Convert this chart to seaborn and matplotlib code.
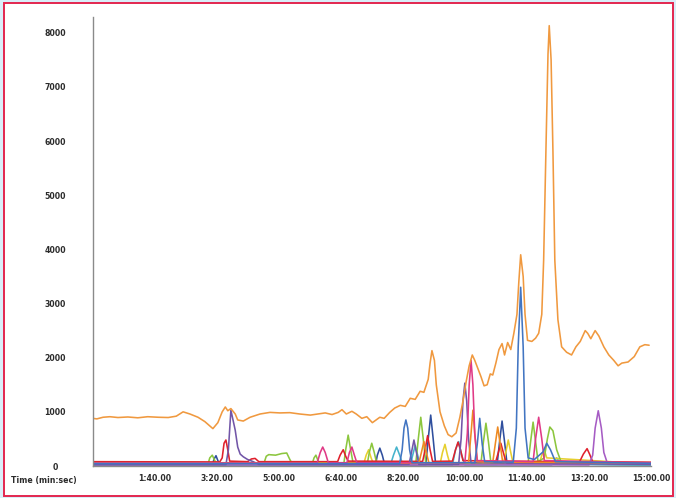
import matplotlib
matplotlib.use("Agg")
import matplotlib.pyplot as plt
from matplotlib.patches import Rectangle
import pandas as pd
import seaborn as sns

# Retention time (s) and intensity for each traced ion channel
tic_t = [0, 7, 17, 28, 41, 57, 73, 89, 106, 122, 135, 146, 157, 170, 181, 194, 202, 209,
         214, 218, 223, 230, 234, 243, 254, 270, 286, 302, 318, 334, 351, 363, 375, 386,
         396, 402, 409, 418, 425, 434, 442, 451, 457, 463, 470, 479, 487, 496, 504, 512,
         520, 528, 534, 541, 544, 547, 551, 554, 560, 567, 573, 579, 586, 592, 597, 602,
         607, 612, 616, 621, 626, 631, 636, 641, 645, 650, 655, 660, 664, 669, 674, 679,
         684, 687, 690, 694, 697, 701, 708, 714, 719, 724, 727, 731, 734, 736, 739, 742,
         745, 750, 756, 764, 772, 779, 786, 794, 798, 803, 810, 816, 824, 832, 840, 847,
         853, 863, 873, 882, 890, 897]
tic_v = [880, 870, 900, 910, 895, 905, 890, 910, 900, 895, 920, 1000, 960, 900, 820, 690,
         800, 1000, 1090, 1020, 1060, 960, 850, 830, 900, 960, 990, 980, 985, 960, 940,
         960, 980, 950, 990, 1040, 960, 1010, 960, 880, 910, 800, 850, 900, 880, 990, 1070,
         1120, 1100, 1250, 1230, 1380, 1360, 1600, 1900, 2130, 1950, 1500, 1000, 740, 580,
         540, 610, 900, 1200, 1550, 1850, 2050, 1950, 1800, 1650, 1480, 1500, 1700, 1680,
         1900, 2150, 2260, 2050, 2280, 2150, 2450, 2800, 3400, 3900, 3500, 2800, 2320,
         2300, 2360, 2450, 2800, 3800, 6000, 7600, 8130, 7500, 5800, 3800, 2700, 2200,
         2100, 2050, 2200, 2300, 2500, 2450, 2350, 2500, 2400, 2200, 2050, 1950, 1850,
         1900, 1920, 2020, 2200, 2240, 2230]

blue_t = [0, 495, 499, 502, 505, 508, 511, 515, 616, 620, 624, 628, 632, 678, 683, 686,
          690, 694, 697, 702, 712, 726, 732, 738, 746, 900]
blue_v = [45, 45, 300, 700, 850, 700, 300, 60, 60, 400, 880, 400, 80, 70, 700, 2200,
          3300, 2200, 700, 150, 120, 260, 420, 300, 80, 50]

purple_t = [0, 215, 219, 223, 227, 230, 234, 238, 243, 250, 259, 268, 510, 514, 518, 522,
            526, 590, 594, 597, 600, 603, 606, 610, 900]
purple_v = [25, 25, 300, 1030, 820, 660, 350, 220, 170, 120, 80, 30, 30, 250, 480, 250,
            30, 30, 500, 1200, 1530, 1200, 500, 60, 30]

violet_t = [0, 800, 806, 810, 815, 820, 824, 830, 900]
violet_v = [20, 20, 200, 700, 1020, 700, 250, 40, 30]

red_t = [0, 205, 209, 212, 215, 218, 221, 250, 256, 262, 268, 395, 399, 404, 408, 412,
         532, 536, 540, 544, 548, 580, 585, 589, 593, 597, 650, 654, 658, 662, 666, 785,
         791, 797, 801, 806, 900]
red_v = [80, 75, 150, 420, 480, 300, 90, 80, 130, 140, 80, 80, 200, 300, 180, 90, 85,
         300, 560, 300, 85, 90, 300, 440, 300, 100, 90, 250, 420, 250, 90, 80, 220, 320,
         220, 80, 70]

pink_t = [0, 362, 367, 371, 375, 380, 410, 414, 418, 422, 426, 600, 604, 607, 610, 613,
          616, 620, 710, 714, 719, 724, 728, 900]
pink_v = [55, 55, 250, 350, 250, 60, 60, 250, 350, 200, 60, 60, 600, 1500, 1950, 1500,
          600, 100, 80, 500, 900, 500, 100, 60]

green_t = [0, 186, 189, 193, 197, 201, 276, 280, 284, 295, 305, 313, 318, 322, 354, 357,
           360, 364, 405, 408, 412, 416, 420, 443, 446, 450, 454, 458, 521, 525, 529, 533,
           537, 626, 630, 634, 638, 642, 702, 706, 710, 714, 718, 728, 733, 737, 742, 748,
           755, 900]
green_v = [30, 30, 150, 200, 100, 30, 40, 180, 210, 200, 230, 240, 120, 40, 40, 150, 200,
           80, 40, 300, 570, 300, 50, 50, 250, 420, 250, 50, 50, 500, 900, 500, 60, 60,
           450, 790, 450, 60, 60, 450, 810, 450, 80, 150, 500, 720, 650, 300, 80, 50]

navy_t = [0, 193, 196, 199, 202, 206, 456, 459, 463, 467, 471, 537, 541, 545, 549, 553,
          652, 656, 660, 664, 668, 900]
navy_v = [20, 20, 130, 190, 100, 20, 20, 200, 330, 200, 20, 20, 500, 940, 500, 30, 30,
          450, 830, 450, 40, 20]

amber_t = [0, 526, 530, 534, 538, 542, 606, 610, 613, 616, 620, 645, 649, 653, 657, 661,
           900]
amber_v = [60, 60, 250, 450, 250, 60, 60, 600, 1030, 600, 80, 70, 400, 720, 400, 70, 60]

yellow_t = [0, 437, 441, 445, 449, 453, 560, 564, 568, 572, 576, 662, 666, 670, 674, 678,
            720, 724, 728, 732, 900]
yellow_v = [35, 35, 200, 300, 150, 35, 35, 250, 400, 200, 40, 40, 250, 480, 250, 40, 40,
            200, 300, 150, 35]

cyan_t = [0, 480, 485, 490, 495, 500, 512, 516, 520, 524, 528, 580, 585, 590, 595, 600,
          740, 748, 755, 900]
cyan_v = [15, 15, 200, 350, 200, 20, 20, 200, 380, 200, 20, 20, 300, 450, 200, 20, 20,
          150, 40, 15]

x_ticks = [100, 200, 300, 400, 500, 600, 700, 800, 900]
x_labels = ["1:40.00", "3:20.00", "5:00.00", "6:40.00", "8:20.00", "10:00.00",
            "11:40.00", "13:20.00", "15:00.00"]
y_ticks = [0, 1000, 2000, 3000, 4000, 5000, 6000, 7000, 8000]

traces = {
    "navy": (navy_t, navy_v, "#2f4f9e"),
    "cyan": (cyan_t, cyan_v, "#45b3cc"),
    "yellow": (yellow_t, yellow_v, "#e6cf2e"),
    "green": (green_t, green_v, "#8cc63e"),
    "red": (red_t, red_v, "#e0202c"),
    "violet": (violet_t, violet_v, "#a65cc4"),
    "purple": (purple_t, purple_v, "#7256a8"),
    "amber": (amber_t, amber_v, "#ee8a22"),
    "pink": (pink_t, pink_v, "#e03a86"),
    "blue": (blue_t, blue_v, "#4275c2"),
    "tic": (tic_t, tic_v, "#f0993f"),
}

frames = []
for name, (t, v, _) in traces.items():
    frames.append(pd.DataFrame({"time": t, "intensity": v, "trace": name}))
df = pd.concat(frames, ignore_index=True)
palette = {name: c for name, (_, _, c) in traces.items()}

sns.set_style("white")
fig = plt.figure(figsize=(6.76, 4.98), dpi=100, facecolor="#d9eef9")
W, H = 676, 498
frame = Rectangle((4 / W, 2 / H), 669 / W, 493 / H, transform=fig.transFigure,
                  facecolor="white", edgecolor="#e3264f", linewidth=1.4)
frame.set_zorder(-10)
fig.patches.append(frame)

ax = fig.add_axes([92.5 / W, 1 - 466 / H, (651 - 92.5) / W, (466 - 17) / H])
ax.patch.set_alpha(0)
ax.set_zorder(5)

sns.lineplot(data=df, x="time", y="intensity", hue="trace", hue_order=list(traces),
             palette=palette, estimator=None, sort=False, legend=False,
             linewidth=1.15, ax=ax)

ax.set_xlim(0, 900)
ax.set_ylim(0, 8290)
ax.set_xlabel("")
ax.set_ylabel("")

for side in ("top", "right"):
    ax.spines[side].set_visible(False)
for side in ("left", "bottom"):
    ax.spines[side].set_color("#8a8a8a")
    ax.spines[side].set_linewidth(1.0)

ax.set_xticks([0] + x_ticks)
ax.set_xticklabels([""] + x_labels)
ax.set_yticks(y_ticks)
ax.set_yticklabels([str(v) for v in y_ticks])
ax.tick_params(axis="both", which="major", direction="out", length=3, width=0.8,
               color="#8a8a8a", labelsize=5.6, labelcolor="#2b2b2b")
ax.tick_params(axis="x", pad=3)
ax.tick_params(axis="y", pad=24)
for lab in ax.get_yticklabels():
    lab.set_horizontalalignment("center")
    lab.set_fontweight("bold")
for lab in ax.get_xticklabels():
    lab.set_fontweight("bold")

fig.text(44 / W, 1 - 480 / H, "Time (min:sec)", ha="center", va="center",
         fontsize=5.6, fontweight="bold", color="#2b2b2b", zorder=6)

fig.savefig("out.png", dpi=100, facecolor=fig.get_facecolor())
